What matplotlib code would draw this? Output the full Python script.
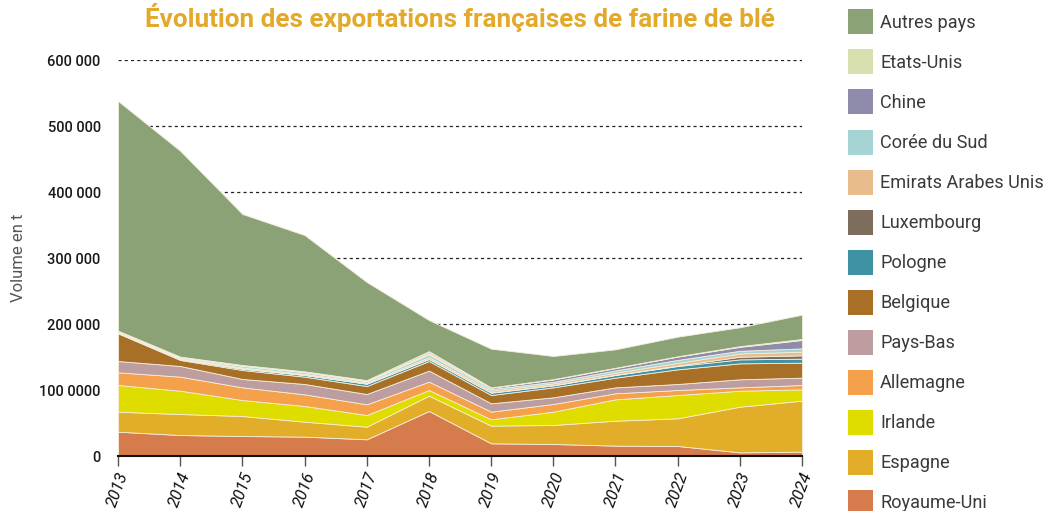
import matplotlib
matplotlib.use("Agg")
import matplotlib.pyplot as plt
from matplotlib.patches import Rectangle
import numpy as np

years = [2013, 2014, 2015, 2016, 2017, 2018, 2019, 2020, 2021, 2022, 2023, 2024]

royaume_uni = [36800, 31800, 30300, 29300, 25300, 68200, 19200, 18200, 15700, 15200, 5500, 6600]
espagne     = [30300, 31800, 30300, 22700, 19100, 23200, 26800, 28800, 37800, 41900, 69200, 77200]
irlande     = [40500, 35400, 24200, 23800, 17700, 8600, 9600, 20200, 32400, 35300, 24200, 17200]
allemagne   = [19200, 21200, 19200, 17600, 16200, 12600, 11600, 11600, 9100, 7600, 5100, 6600]
pays_bas    = [17100, 16200, 12700, 15700, 15600, 16700, 12600, 10100, 9000, 9100, 12200, 11100]
belgique    = [42000, 9100, 13600, 11100, 12100, 14600, 12600, 15100, 14700, 22200, 24200, 22700]
pologne     = [500, 1200, 2000, 2500, 3500, 3000, 3500, 3000, 4000, 5000, 6000, 6100]
luxembourg  = [300, 300, 300, 300, 300, 500, 500, 500, 500, 800, 4000, 5000]
emirats     = [500, 800, 1500, 1500, 1500, 2500, 2500, 2500, 3000, 4000, 5000, 5500]
coree       = [1000, 1500, 2500, 2500, 2000, 4000, 2500, 2500, 3500, 4500, 4000, 5100]
chine       = [200, 300, 500, 500, 500, 1500, 2000, 3500, 3500, 5000, 6000, 12700]
etats_unis  = [1500, 1000, 800, 800, 1200, 3500, 500, 500, 500, 500, 1000, 1500]
autres      = [348000, 311900, 228800, 206500, 148600, 47100, 58700, 35000, 27900, 29700, 28600, 36800]

series_names = ["Royaume-Uni", "Espagne", "Irlande", "Allemagne", "Pays-Bas", "Belgique",
                "Pologne", "Luxembourg", "Emirats Arabes Unis", "Corée du Sud", "Chine",
                "Etats-Unis", "Autres pays"]
series_values = [royaume_uni, espagne, irlande, allemagne, pays_bas, belgique, pologne,
                 luxembourg, emirats, coree, chine, etats_unis, autres]
colors = ["#D67B4B", "#E2AE2A", "#DFDC00", "#F5A04A", "#BD9DA0", "#A87026", "#3F91A4",
          "#7E6D5C", "#E8BC8C", "#A6D3D4", "#8F8BAA", "#D8E0B0", "#8BA276"]

y_ticks = [0, 100000, 200000, 300000, 400000, 500000, 600000]
y_ticklabels = ["0", "100 0000", "200 000", "300 000", "400 000", "500 000", "600 000"]

W, H = 1052, 511
fig = plt.figure(figsize=(W / 100, H / 100), dpi=100)
ax = fig.add_axes([118 / W, 1 - 456 / H, (802 - 118) / W, (456 - 60) / H])

ax.stackplot(years, *series_values, colors=colors, edgecolor="#F4EEDC", linewidth=0.6, zorder=2)

ax.set_xlim(2013, 2024)
ax.set_ylim(0, 600000)
ax.set_yticks(y_ticks)
ax.set_yticklabels(y_ticklabels, fontsize=10.5, fontweight="medium", color="#1a1a1a",
                   family="Roboto")
ax.set_xticks(years)
ax.set_xticklabels([str(y) for y in years], rotation=70, fontsize=12, style="italic",
                   family="Roboto", color="#111111", ha="center", va="top")
ax.tick_params(axis="y", length=0, pad=12.5)
ax.tick_params(axis="x", length=7, width=1.0, color="#555555", pad=3)

for s in ["left", "right", "top"]:
    ax.spines[s].set_visible(False)
ax.spines["bottom"].set_linewidth(1.5)
ax.spines["bottom"].set_color("#111111")
ax.spines["bottom"].set_zorder(5)

for yv in y_ticks[1:]:
    ax.axhline(yv, color="#222222", linestyle=(0, (2.5, 2.5)), linewidth=0.9, zorder=1)

ax.set_ylabel("Volume en t", fontsize=12, color="#555555", family="Roboto",
              fontweight="normal")
ax.yaxis.set_label_coords(-92 / (802 - 118), 0.5)

fig.text(460 / W, 1 - 18 / H, "Évolution des exportations françaises de farine de blé",
         ha="center", va="center", fontsize=18.8, fontweight="bold", color="#E2A92A",
         family="Roboto")

# legend
legend_order = list(range(len(series_names)))[::-1]
for i, idx in enumerate(legend_order):
    cy = 22 + 40 * i
    fig.add_artist(Rectangle((848 / W, 1 - (cy + 12.5) / H), 25 / W, 25 / H,
                             transform=fig.transFigure, facecolor=colors[idx],
                             edgecolor="none"))
    fig.text(880 / W, 1 - (cy + 1) / H, series_names[idx], ha="left", va="center",
             fontsize=13.1, color="#3a3a3a", family="Roboto", fontweight="normal")

fig.savefig("out.png", dpi=100)
